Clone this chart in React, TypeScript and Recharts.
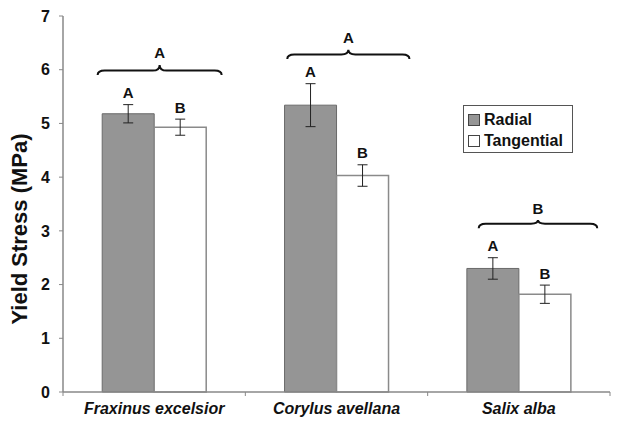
import React from "react";
import {
  BarChart,
  Bar,
  XAxis,
  YAxis,
  ErrorBar,
  LabelList,
  ReferenceArea,
  Legend,
} from "recharts";

const categories = ["Fraxinus excelsior", "Corylus avellana", "Salix alba"];
const radial = [5.18, 5.34, 2.3];
const radialErr = [0.17, 0.4, 0.2];
const tangential = [4.93, 4.03, 1.82];
const tangentialErr = [0.15, 0.2, 0.17];
const radialLetters = ["A", "A", "A"];
const tangentialLetters = ["B", "B", "B"];
const groupLetters = ["A", "A", "B"];
// brace extent as fraction of each category band
const braceStart = [0.19, 0.23, 0.28];
const braceEnd = [0.87, 0.9, 0.93];
const braceLow = [5.9, 6.2, 3.05];
const braceHigh = [6.09, 6.37, 3.2];
const yTicks = [0, 1, 2, 3, 4, 5, 6, 7];

const data = categories.map((c, i) => ({
  name: c,
  radial: radial[i],
  radialErr: radialErr[i],
  tangential: tangential[i],
  tangentialErr: tangentialErr[i],
}));

const FONT = "'Liberation Sans', Arial, sans-serif";

const makeLetterContent =
  (vals: number[], errs: number[], letters: string[]) => (p: any) => {
    const i = p.index;
    const v = vals[i];
    const h = Math.abs(p.height);
    const errPx = (errs[i] * h) / v;
    const cx = p.x + p.width / 2;
    const cy = p.y - errPx - 12;
    return (
      <text
        key={"l" + i}
        x={cx}
        y={cy}
        textAnchor="middle"
        dominantBaseline="central"
        fontFamily={FONT}
        fontWeight="bold"
        fontSize={15}
        fill="#111"
      >
        {letters[i]}
      </text>
    );
  };

const makeBrace = (i: number) => (p: any) => {
  const x1 = p.x + p.width * braceStart[i];
  const x2 = p.x + p.width * braceEnd[i];
  const yt = p.y;
  const yb = p.y + p.height;
  const ym = yb - 4.5;
  const cx = (x1 + x2) / 2;
  const r = 7;
  const d = `M${x1},${yb} Q${x1},${ym} ${x1 + r},${ym} L${cx - r},${ym} Q${cx},${ym} ${cx},${yt} Q${cx},${ym} ${cx + r},${ym} L${x2 - r},${ym} Q${x2},${ym} ${x2},${yb}`;
  return (
    <g>
      <path d={d} fill="none" stroke="#111" strokeWidth={2} />
      <text
        x={cx}
        y={yt - 12}
        textAnchor="middle"
        dominantBaseline="central"
        fontFamily={FONT}
        fontWeight="bold"
        fontSize={15}
        fill="#111"
      >
        {groupLetters[i]}
      </text>
    </g>
  );
};

const XTick = (p: any) => {
  const off = p.payload && p.payload.offset ? p.payload.offset : 0;
  const isLast = p.index === categories.length - 1;
  return (
    <g>
      <line x1={p.x - off} x2={p.x - off} y1={p.y - 11} y2={p.y - 7} stroke="#888" />
      {isLast && (
        <line x1={p.x + off} x2={p.x + off} y1={p.y - 11} y2={p.y - 7} stroke="#888" />
      )}
      <text
        x={p.x}
        y={p.y}
        dy="0.71em"
        textAnchor="middle"
        fontFamily={FONT}
        fontWeight="bold"
        fontStyle="italic"
        fontSize={16}
        fill="#111"
      >
        {p.payload.value}
      </text>
    </g>
  );
};

const LegendBox = () => (
  <div
    style={{
      width: 108,
      height: 46,
      border: "1.5px solid #555",
      background: "#fff",
      fontFamily: FONT,
      fontWeight: "bold",
      fontSize: 16,
      color: "#111",
      boxSizing: "content-box",
    }}
  >
    {[
      { label: "Radial", fill: "#959595" },
      { label: "Tangential", fill: "#ffffff" },
    ].map((it, k) => (
      <div
        key={it.label}
        style={{
          display: "flex",
          alignItems: "center",
          height: 21,
          marginTop: k === 0 ? 3 : 0,
          paddingLeft: 4,
        }}
      >
        <span
          style={{
            display: "inline-block",
            width: 10,
            height: 10,
            background: it.fill,
            border: "1px solid #444",
            marginRight: 4,
          }}
        />
        <span>{it.label}</span>
      </div>
    ))}
  </div>
);

export default function App() {
  return (
    <div style={{ position: "absolute", left: 0, top: 0, background: "#fff" }}>
      <BarChart
        width={626}
        height={423}
        data={data}
        margin={{ top: 16, right: 16, bottom: 1, left: 0 }}
        barCategoryGap="21.5%"
        barGap={0}
      >
        <XAxis
          dataKey="name"
          height={30}
          axisLine={{ stroke: "#888", strokeWidth: 1.5 }}
          tickLine={false}
          tickSize={0}
          tickMargin={11}
          interval={0}
          tick={<XTick />}
        />
        <YAxis
          width={63}
          domain={[0, 7]}
          ticks={yTicks}
          interval={0}
          axisLine={{ stroke: "#888", strokeWidth: 1.5 }}
          tickLine={{ stroke: "#888" }}
          tickSize={4}
          tickMargin={9}
          tick={{
            fontFamily: FONT,
            fontWeight: "bold",
            fontSize: 16,
            fill: "#111",
          }}
          label={{
            content: () => (
              <text
                x={19}
                y={229}
                transform="rotate(-90 19 229)"
                textAnchor="middle"
                dominantBaseline="central"
                fontFamily={FONT}
                fontWeight="bold"
                fontSize={22}
                fill="#111"
              >
                Yield Stress (MPa)
              </text>
            ),
          }}
        />
        <Legend
          layout="vertical"
          align="center"
          verticalAlign="middle"
          content={() => <LegendBox />}
          wrapperStyle={{ left: 463, top: 105, width: 112, height: 50 }}
        />
        <Bar
          dataKey="radial"
          name="Radial"
          fill="#959595"
          stroke="#6a6a6a"
          strokeWidth={1}
          isAnimationActive={false}
        >
          <ErrorBar
            dataKey="radialErr"
            width={5}
            stroke="#222"
            strokeWidth={1}
            direction="y"
            isAnimationActive={false}
          />
          <LabelList
            dataKey="radial"
            content={makeLetterContent(radial, radialErr, radialLetters)}
          />
        </Bar>
        <Bar
          dataKey="tangential"
          name="Tangential"
          fill="#ffffff"
          stroke="#8a8a8a"
          strokeWidth={1.5}
          isAnimationActive={false}
        >
          <ErrorBar
            dataKey="tangentialErr"
            width={5}
            stroke="#222"
            strokeWidth={1}
            direction="y"
            isAnimationActive={false}
          />
          <LabelList
            dataKey="tangential"
            content={makeLetterContent(tangential, tangentialErr, tangentialLetters)}
          />
        </Bar>
        {categories.map((c, i) => (
          <ReferenceArea
            key={"brace" + i}
            x1={c}
            x2={c}
            y1={braceLow[i]}
            y2={braceHigh[i]}
            shape={makeBrace(i)}
          />
        ))}
      </BarChart>
    </div>
  );
}
